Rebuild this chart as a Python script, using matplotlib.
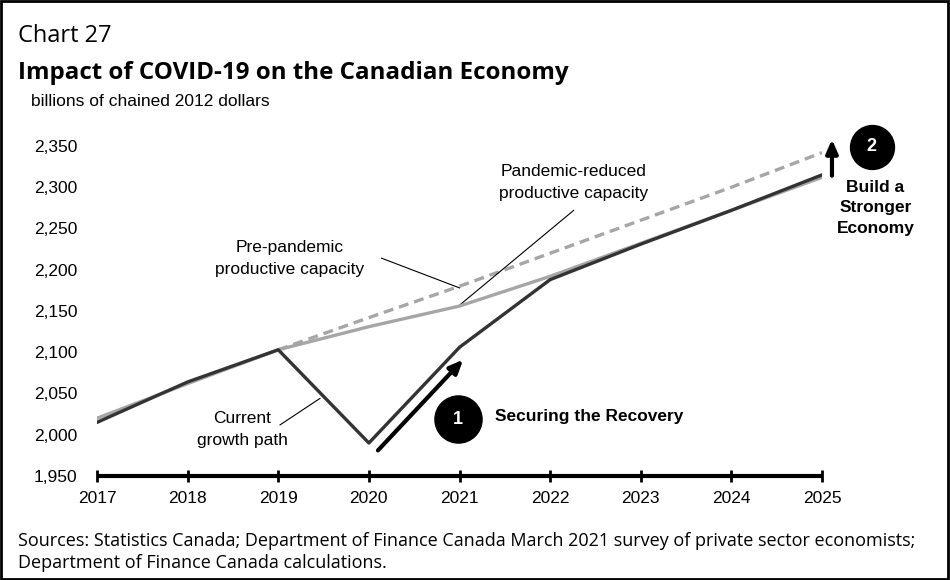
import numpy as np
import matplotlib.pyplot as plt
from matplotlib.patches import Rectangle
from matplotlib.ticker import FuncFormatter

# Data (billions of chained 2012 dollars)
years = [2017, 2018, 2019, 2020, 2021, 2022, 2023, 2024, 2025]
current_path = [2015, 2064, 2103, 1990, 2106, 2188, 2231, 2272, 2315]
reduced_capacity = [2020, 2062, 2103, 2131, 2156, 2192, 2232, 2272, 2312]
pre_years = [2019, 2020, 2021, 2022, 2023, 2024, 2025]
pre_capacity = [2103, 2142, 2180, 2220, 2260, 2300, 2342]

y_ticks = [1950, 2000, 2050, 2100, 2150, 2200, 2250, 2300, 2350]

fig = plt.figure(figsize=(9.5, 5.8), dpi=100)
ax = fig.add_axes([97 / 950, 1 - 476 / 580, 725 / 950, 330 / 580])

ax.plot(pre_years, pre_capacity, color='#a6a6a6', linewidth=2.4, linestyle=(0, (3, 1.8)), zorder=2)
ax.plot(years, reduced_capacity, color='#a6a6a6', linewidth=2.4, zorder=3)
ax.plot(years, current_path, color='#333333', linewidth=2.4, zorder=4)

ax.set_xlim(2017, 2025)
ax.set_ylim(1950, 2350)
ax.set_xticks(years)
ax.set_yticks(y_ticks)
ax.yaxis.set_major_formatter(FuncFormatter(lambda v, p: f'{int(v):,}'))

for s in ['top', 'right', 'left']:
    ax.spines[s].set_visible(False)
ax.spines['bottom'].set_linewidth(3)
ax.spines['bottom'].set_capstyle('butt')
ax.tick_params(axis='y', length=0, pad=14, labelsize=12.5)
ax.tick_params(axis='x', direction='inout', length=8, width=2, pad=7, labelsize=12.5)
for lab in ax.get_xticklabels() + ax.get_yticklabels():
    lab.set_fontfamily('Liberation Sans')

# annotations
txt = dict(fontfamily='Liberation Sans', fontsize=12.5, ha='center', va='center')
ax.text(2019.13, 2214, 'Pre-pandemic\nproductive capacity', linespacing=1.6, **txt)
ax.plot([2020.14, 2021.0], [2214, 2178], color='black', linewidth=0.8)
ax.text(2022.26, 2306, 'Pandemic-reduced\nproductive capacity', linespacing=1.6, **txt)
ax.plot([2022.26, 2021.0], [2272, 2157], color='black', linewidth=0.8)
ax.text(2018.60, 2006, 'Current\ngrowth path', linespacing=1.55, **txt)
ax.plot([2019.02, 2019.46], [2012, 2044], color='black', linewidth=0.8)

ax.annotate('', xy=(2021.04, 2091), xytext=(2020.10, 1981),
            arrowprops=dict(arrowstyle='-|>,head_length=0.8,head_width=0.35', color='black', lw=3,
                            shrinkA=0, shrinkB=0), annotation_clip=False)
ax.scatter([2020.98], [2019], s=1150, color='black', zorder=6, clip_on=False)
ax.text(2020.98, 2019, '1', color='white', fontsize=13, fontweight='bold',
        fontfamily='Liberation Sans', ha='center', va='center', zorder=7)
ax.text(2021.39, 2022, 'Securing the Recovery', fontfamily='Liberation Sans', fontsize=12.5,
        fontweight='bold', ha='left', va='center')

ax.annotate('', xy=(2025.11, 2358), xytext=(2025.11, 2314),
            arrowprops=dict(arrowstyle='-|>,head_length=0.8,head_width=0.35', color='black', lw=3,
                            shrinkA=0, shrinkB=0), annotation_clip=False)
ax.scatter([2025.55], [2349], s=1000, color='black', zorder=6, clip_on=False)
ax.text(2025.55, 2349, '2', color='white', fontsize=13, fontweight='bold',
        fontfamily='Liberation Sans', ha='center', va='center', zorder=7)
ax.text(2025.59, 2275, 'Build a\nStronger\nEconomy', fontfamily='Liberation Sans', fontsize=12.5,
        fontweight='bold', ha='center', va='center', linespacing=1.45)

# titles and notes
fig.text(18 / 950, 1 - 36 / 580, 'Chart 27', fontfamily='Open Sans', fontsize=17,
         ha='left', va='center')
fig.text(18 / 950, 1 - 73 / 580, 'Impact of COVID-19 on the Canadian Economy', fontfamily='Open Sans',
         fontsize=17.4, fontweight='bold', ha='left', va='center')
fig.text(31 / 950, 1 - 101 / 580, 'billions of chained 2012 dollars', fontfamily='Liberation Sans',
         fontsize=12.5, ha='left', va='center')
fig.text(18 / 950, 1 - 552 / 580,
         'Sources: Statistics Canada; Department of Finance Canada March 2021 survey of private sector economists;\n'
         'Department of Finance Canada calculations.',
         fontfamily='Open Sans', fontsize=13, ha='left', va='center', linespacing=1.3)

fig.patches.append(Rectangle((0.001, 0.002), 0.997, 0.996, transform=fig.transFigure,
                             fill=False, edgecolor='black', linewidth=2))

fig.savefig('out.png', dpi=100)
